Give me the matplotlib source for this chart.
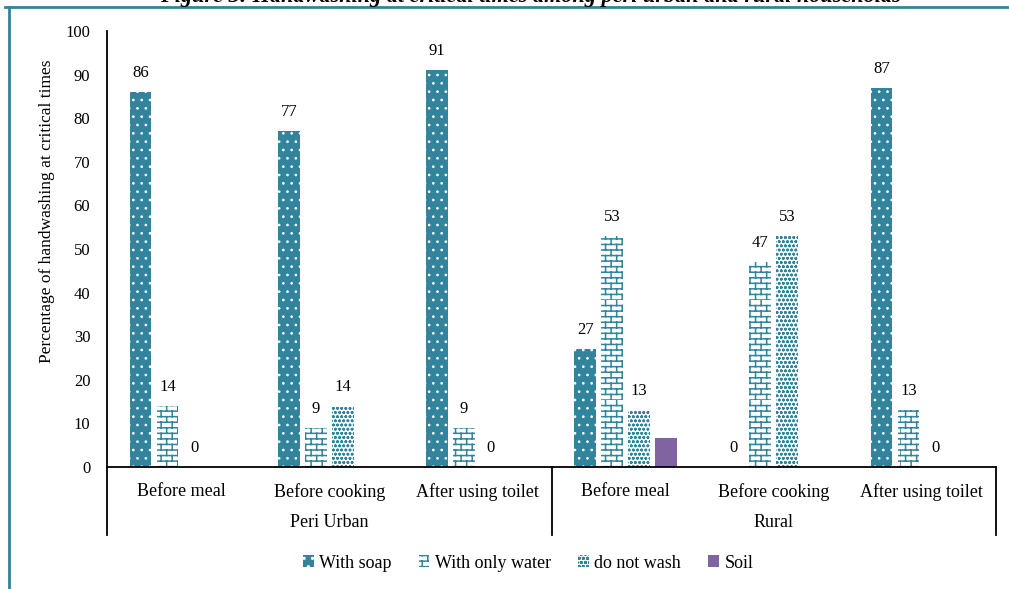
import warnings
import numpy as np
import matplotlib
matplotlib.use('Agg')
from matplotlib import pyplot as plt
import matplotlib.hatch as mhatch
from matplotlib.path import Path
from matplotlib.lines import Line2D
import matplotlib.transforms as mtransforms

warnings.filterwarnings('ignore')

# Handwashing at critical times, % of households
areas = ['Peri Urban', 'Rural']
moments = ['Before meal', 'Before cooking', 'After using toilet'] * 2
with_soap = [86, 77, 91, 27, 0, 87]
only_water = [14, 9, 9, 53, 47, 13]
no_wash = [0, 14, 0, 13, 53, 0]
soil = [None, None, None, 6.7, None, None]
series_names = ['With soap', 'With only water', 'do not wash', 'Soil']

TEAL = '#31849B'
PURPLE = '#8064A2'


# brick hatch ('b'), matplotlib has no such pattern built in
class BrickHatch(mhatch.HatchPatternBase):
    rows = 18
    cols = 9

    def __init__(self, hatch, density):
        if 'b' in hatch:
            self.num_vertices = self.rows * 2 + self.rows * self.cols * 2
        else:
            self.num_vertices = 0

    def set_vertices_and_codes(self, vertices, codes):
        r, c = self.rows, self.cols
        verts = []
        for i in range(r):
            y = i / r
            verts += [(0, y), (1, y)]
            shift = 0.5 / c if i % 2 else 0.0
            for j in range(c):
                x = j / c + shift
                verts += [(x, y), (x, y + 1 / r)]
        vertices[:] = verts
        codes[0::2] = Path.MOVETO
        codes[1::2] = Path.LINETO


mhatch._hatch_types.append(BrickHatch)

plt.rcParams['font.family'] = ['Liberation Serif', 'DejaVu Serif']
plt.rcParams['hatch.linewidth'] = 1.1

fig = plt.figure(figsize=(10.09, 5.89), dpi=100)
ax = fig.add_axes([107 / 1009, 1 - 467 / 589, 889 / 1009, 436 / 589])

x = np.arange(len(moments))
step = 0.182
width = 0.146
styles = [
    dict(color=TEAL, edgecolor='white', hatch='..', linewidth=0),
    dict(color='white', edgecolor=TEAL, hatch='b', linewidth=0),
    dict(color='white', edgecolor=TEAL, hatch='oooo', linewidth=0),
    dict(color=PURPLE, edgecolor=PURPLE, linewidth=0),
]
hatch_lw = [0.7, 1.1, 0.8, 1.0]
handles = []
for k, (vals, st) in enumerate(zip([with_soap, only_water, no_wash, soil], styles)):
    v = np.array([np.nan if a is None else a for a in vals], dtype=float)
    with plt.rc_context({'hatch.linewidth': hatch_lw[k]}):
        bars = ax.bar(x + (k - 1.5) * step, np.nan_to_num(v), width, **st)
    handles.append(bars[0])
    if k < 3:
        for b, val in zip(bars, v):
            ax.annotate(f'{val:.0f}', (b.get_x() + b.get_width() / 2, val),
                        xytext=(0, 8), textcoords='offset points',
                        ha='center', va='bottom', fontsize=12)

ax.set_xlim(-0.5, 5.5)
ax.set_ylim(0, 100)
ax.set_yticks(range(0, 101, 10))
ax.tick_params(axis='y', length=0, pad=12, labelsize=12)
ax.set_xticks([])
for s in ['top', 'right']:
    ax.spines[s].set_visible(False)
ax.spines['left'].set_visible(False)
ax.spines['bottom'].set_color('black')
ax.spines['bottom'].set_linewidth(1.3)

# two-level category axis
trans = mtransforms.blended_transform_factory(ax.transData, ax.transAxes)
for xs in [-0.5, 2.5, 5.5]:
    top = 1.0 if xs == -0.5 else 0.0
    ax.add_line(Line2D([xs, xs], [top, -0.156], transform=trans,
                       color='black', lw=1.3, clip_on=False))
for xi, m in zip(x, moments):
    ax.text(xi, -0.057, m, transform=trans, ha='center', va='center', fontsize=13)
for i, a in enumerate(areas):
    ax.text(1 + 3 * i, -0.128, a, transform=trans, ha='center', va='center', fontsize=13)

fig.text(47 / 1009, 1 - 211 / 589, 'Percentage of handwashing at critical times',
         rotation=90, ha='center', va='center', fontsize=12.5)

fig.legend(handles, series_names, loc='center', ncol=4,
           bbox_to_anchor=(528 / 1009, 1 - 563 / 589), frameon=False,
           fontsize=13, handlelength=0.6, handleheight=0.6,
           handletextpad=0.3, columnspacing=1.5)

# figure caption, mostly cut off by the page edge
fig.text(530 / 1009, 1 - 2 / 589,
         'Figure 3: Handwashing at critical times among peri urban and rural households',
         ha='center', va='baseline', fontsize=16, fontweight='bold', fontstyle='italic')

# page frame
fig.add_artist(Line2D([5 / 1009, 1], [1 - 6.5 / 589] * 2, transform=fig.transFigure,
                      color=TEAL, lw=2))
fig.add_artist(Line2D([8.5 / 1009] * 2, [1 - 6.5 / 589, 0], transform=fig.transFigure,
                      color=TEAL, lw=2))

fig.savefig('out.png', dpi=100)
